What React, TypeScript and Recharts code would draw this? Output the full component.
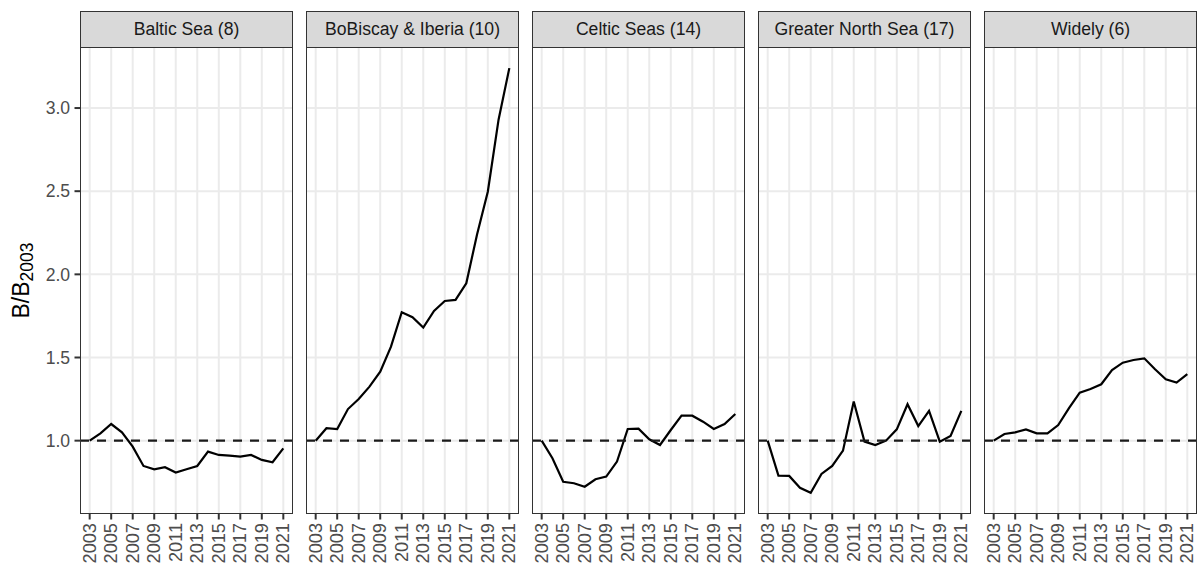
import React from 'react';
import { LineChart, Line, XAxis, YAxis, CartesianGrid, ReferenceLine } from 'recharts';

const years = [2003, 2004, 2005, 2006, 2007, 2008, 2009, 2010, 2011, 2012, 2013, 2014, 2015, 2016, 2017, 2018, 2019, 2020, 2021];
const yearTicks = [2003, 2005, 2007, 2009, 2011, 2013, 2015, 2017, 2019, 2021];
const yTicks = [1.0, 1.5, 2.0, 2.5, 3.0];

const titles = ['Baltic Sea (8)', 'BoBiscay & Iberia (10)', 'Celtic Seas (14)', 'Greater North Sea (17)', 'Widely (6)'];

const baltic = [1.0, 1.044, 1.1, 1.05, 0.964, 0.848, 0.828, 0.84, 0.808, 0.828, 0.848, 0.934, 0.914, 0.91, 0.904, 0.914, 0.884, 0.87, 0.954];
const bobiscay = [1.0, 1.075, 1.07, 1.19, 1.25, 1.325, 1.415, 1.565, 1.772, 1.742, 1.68, 1.78, 1.84, 1.846, 1.946, 2.24, 2.497, 2.93, 3.24];
const celtic = [1.0, 0.894, 0.753, 0.744, 0.723, 0.768, 0.784, 0.874, 1.07, 1.072, 1.008, 0.974, 1.064, 1.15, 1.15, 1.114, 1.07, 1.1, 1.16];
const northSea = [1.0, 0.79, 0.788, 0.717, 0.687, 0.8, 0.848, 0.94, 1.235, 0.994, 0.974, 1.0, 1.068, 1.219, 1.088, 1.179, 0.994, 1.028, 1.179];
const widely = [1.0, 1.04, 1.05, 1.068, 1.044, 1.044, 1.094, 1.195, 1.289, 1.311, 1.339, 1.425, 1.469, 1.485, 1.495, 1.429, 1.369, 1.349, 1.4];

const seriesList = [baltic, bobiscay, celtic, northSea, widely];

const FONT = '"Liberation Sans", Arial, Helvetica, sans-serif';
const PANEL_LEFT = [80, 306, 532, 758, 984];
const PANEL_W = 213;
const PANEL_TOP = 47;
const PANEL_H = 467;
const AXIS_H = 53;
const Y_AXIS_W = 80;

const XTick = (props: any) => {
  const { x, y, payload } = props;
  return (
    <text
      x={x}
      y={y}
      transform={`rotate(-90, ${x}, ${y})`}
      textAnchor="end"
      dominantBaseline="central"
      fill="#4d4d4d"
      fontSize={18.2}
      fontFamily={FONT}
    >
      {payload.value}
    </text>
  );
};

function Panel({ idx }: { idx: number }) {
  const data = years.map((yr, k) => ({ year: yr, v: seriesList[idx][k] }));
  const first = idx === 0;
  const left = first ? 0 : PANEL_LEFT[idx];
  const width = first ? PANEL_LEFT[0] + PANEL_W : PANEL_W;
  return (
    <>
      <div style={{ position: 'absolute', left, top: PANEL_TOP }}>
        <LineChart width={width} height={PANEL_H + AXIS_H} data={data} margin={{ top: 0, right: 0, left: 0, bottom: 0 }}>
          <CartesianGrid
            stroke="#ebebeb"
            strokeWidth={2}
            horizontalValues={yTicks}
            verticalValues={yearTicks}
          />
          <XAxis
            dataKey="year"
            type="number"
            domain={[2002.1, 2021.9]}
            ticks={yearTicks}
            allowDataOverflow
            height={AXIS_H}
            axisLine={false}
            tickSize={5.5}
            tickMargin={3.5}
            tickLine={{ stroke: '#333333', strokeWidth: 2 }}
            tick={<XTick />}
            interval={0}
          />
          <YAxis
            type="number"
            domain={[0.559, 3.367]}
            ticks={yTicks}
            allowDataOverflow
            hide={!first}
            width={first ? Y_AXIS_W : 0}
            axisLine={false}
            tickSize={5.5}
            tickMargin={4.4}
            tickLine={{ stroke: '#333333', strokeWidth: 2 }}
            tick={{ fill: '#4d4d4d', fontSize: 17.6, fontFamily: FONT }}
            tickFormatter={(v: number) => v.toFixed(1)}
            interval={0}
          />
          <Line
            type="linear"
            dataKey="v"
            stroke="#000000"
            strokeWidth={2.2}
            dot={false}
            isAnimationActive={false}
          />
          <ReferenceLine y={1} stroke="#1a1a1a" strokeWidth={2.2} strokeDasharray="9 8" />
        </LineChart>
      </div>
      <div
        style={{
          position: 'absolute',
          left: PANEL_LEFT[idx],
          top: PANEL_TOP,
          width: PANEL_W,
          height: PANEL_H,
          border: '1.5px solid #333333',
          boxSizing: 'border-box',
          pointerEvents: 'none',
        }}
      />
      <div
        style={{
          position: 'absolute',
          left: PANEL_LEFT[idx],
          top: 11,
          width: PANEL_W,
          height: PANEL_TOP - 11 + 1,
          background: '#d9d9d9',
          border: '1.5px solid #333333',
          boxSizing: 'border-box',
          display: 'flex',
          alignItems: 'center',
          justifyContent: 'center',
          color: '#1a1a1a',
          fontSize: 17.6,
          fontFamily: FONT,
        }}
      >
        {titles[idx]}
      </div>
    </>
  );
}

export default function App() {
  return (
    <div style={{ position: 'absolute', left: 0, top: 0, width: 1198, height: 567, background: '#ffffff', overflow: 'hidden' }}>
      {titles.map((_, i) => (
        <Panel key={i} idx={i} />
      ))}
      <svg width={60} height={567} style={{ position: 'absolute', left: 0, top: 0 }}>
        <text
          transform="translate(28.5, 280.5) rotate(-90)"
          textAnchor="middle"
          fontFamily={FONT}
          fontSize={23}
          fill="#000000"
        >
          B/B
          <tspan fontSize={17.5} dy={4}>2003</tspan>
        </text>
      </svg>
    </div>
  );
}
